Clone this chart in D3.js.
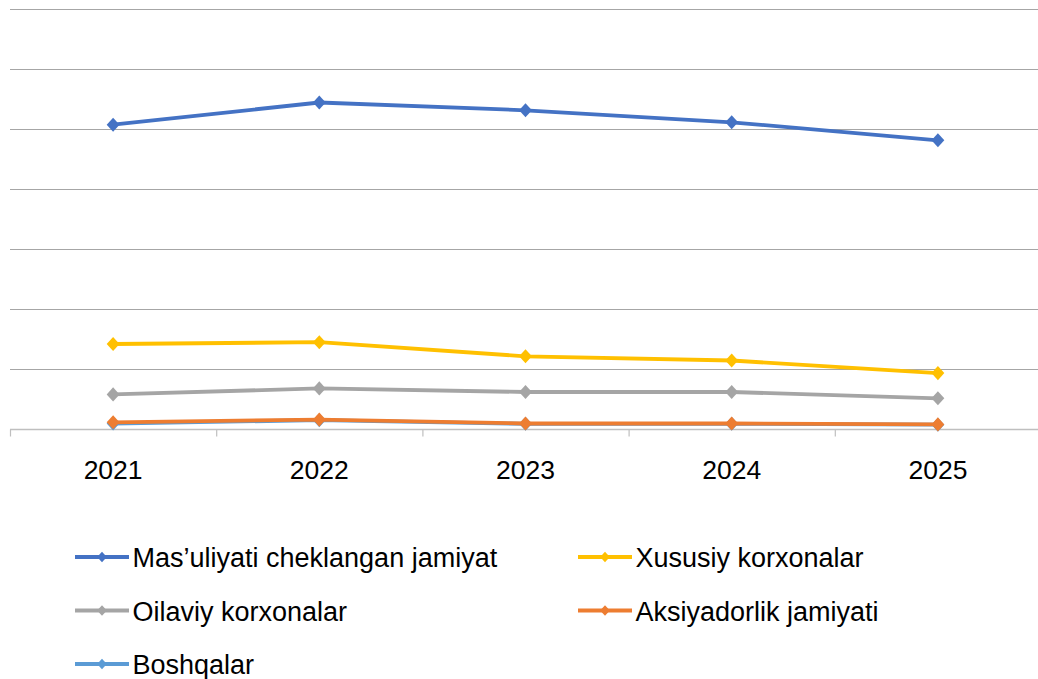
<!DOCTYPE html>
<html>
<head>
<meta charset="utf-8">
<script src="https://d3js.org/d3.v7.min.js"></script>
<style>
  body { margin: 0; background: #fff; }
  text { font-family: "Liberation Sans", Arial, sans-serif; fill: #000; }
</style>
</head>
<body>
<script>
const years = ["2021", "2022", "2023", "2024", "2025"]

const masuliyati = [50.8, 54.5, 53.2, 51.2, 48.2]
const xususiy = [14.25, 14.55, 12.2, 11.5, 9.4]
const oilaviy = [5.85, 6.85, 6.25, 6.25, 5.2]
const aksiyadorlik = [1.2, 1.65, 1.0, 1.0, 0.85]
const boshqalar = [1.0, 1.55, 0.95, 0.95, 0.8]

const seriesNames = ["Mas’uliyati cheklangan jamiyat", "Xususiy korxonalar", "Oilaviy korxonalar", "Aksiyadorlik jamiyati", "Boshqalar"]
const seriesColors = ["#4472C4", "#FFC000", "#A5A5A5", "#ED7D31", "#5B9BD5"]
const yTicks = [0, 10, 20, 30, 40, 50, 60, 70]

var series = [masuliyati, xususiy, oilaviy, aksiyadorlik, boshqalar].map((v, i) => ({
  name: seriesNames[i],
  color: seriesColors[i],
  values: v
}))

var svg = d3.select("body")
          .append("svg")
          .attr("width", 1038)
          .attr("height", 679)

const xScale = d3.scaleBand()
                 .domain(years)
                 .range([10, 1041])

const yScale = d3.scaleLinear()
                 .domain([0, 70])
                 .range([429.5, 9.5])

//gridlines
svg.append("g")
  .selectAll("line")
  .data(yTicks.filter(t => t > 0))
  .enter()
  .append("line")
  .attr("x1", 10)
  .attr("x2", 1041)
  .attr("y1", d => yScale(d))
  .attr("y2", d => yScale(d))
  .attr("stroke", "#a6a6a6")
  .attr("stroke-width", 1)

//x axis
const xAxis = d3.axisBottom(xScale)
                .tickSize(0)
                .tickPadding(0)

var axisG = svg.append("g")
   .attr("transform", "translate(0," + yScale(0) + ")")
   .call(xAxis)

axisG.select(".domain").remove()
axisG.selectAll("text")
   .attr("y", 49.5)
   .attr("dy", null)
   .style("font-size", "26.5px")
   .style("font-family", "'Liberation Sans', Arial, sans-serif")

axisG.append("line")
   .attr("x1", 10)
   .attr("x2", 1041)
   .attr("stroke", "#bfbfbf")
   .attr("stroke-width", 1.5)

axisG.selectAll(".edge")
   .data(years.map(y => xScale(y)).concat([xScale.range()[1]]))
   .enter()
   .append("line")
   .attr("class", "edge")
   .attr("x1", d => d + 0.5)
   .attr("x2", d => d + 0.5)
   .attr("y1", 0)
   .attr("y2", 7)
   .attr("stroke", "#bfbfbf")
   .attr("stroke-width", 1.2)

//lines, boshqalar first so it sits under the orange one
var line = d3.line()
             .x((d, i) => xScale(years[i]) + xScale.bandwidth() / 2)
             .y(d => yScale(d))

// diamond marker, a bit taller than wide like the original
var diamond = d3.symbol().type(d3.symbolDiamond2).size(105)

var drawOrder = [4, 0, 2, 1, 3].map(i => series[i])

var lines = svg.append("g")
  .selectAll("g")
  .data(drawOrder)
  .enter()
  .append("g")

lines.append("path")
  .attr("d", d => line(d.values))
  .attr("fill", "none")
  .attr("stroke", d => d.color)
  .attr("stroke-width", 3.8)
  .attr("stroke-linejoin", "round")

lines.selectAll("path.pt")
  .data(d => d.values.map((v, i) => ({v: v, i: i, color: d.color})))
  .enter()
  .append("path")
  .attr("class", "pt")
  .attr("d", diamond)
  .attr("transform", d => "translate(" + (xScale(years[d.i]) + xScale.bandwidth() / 2) + "," + yScale(d.v) + ") scale(1,1.1)")
  .attr("fill", d => d.color)

//legend
var legendPos = [
  {x: 75, y: 557},
  {x: 578, y: 557},
  {x: 75, y: 610.5},
  {x: 578, y: 610.5},
  {x: 75, y: 664}
]

var legend = svg.append("g")
  .attr("id", "legend")
  .selectAll("g")
  .data(series)
  .enter()
  .append("g")
  .attr("transform", (d, i) => "translate(" + legendPos[i].x + "," + legendPos[i].y + ")")

legend.append("line")
  .attr("x1", 0)
  .attr("x2", 54)
  .attr("stroke", d => d.color)
  .attr("stroke-width", 3.8)

legend.append("path")
  .attr("d", d3.symbol().type(d3.symbolDiamond2).size(60))
  .attr("transform", "translate(27,0) scale(1,1.1)")
  .attr("fill", d => d.color)

legend.append("text")
  .attr("x", 57.5)
  .attr("y", 10)
  .style("font-size", "27px")
  .text(d => d.name)
</script>
</body>
</html>
